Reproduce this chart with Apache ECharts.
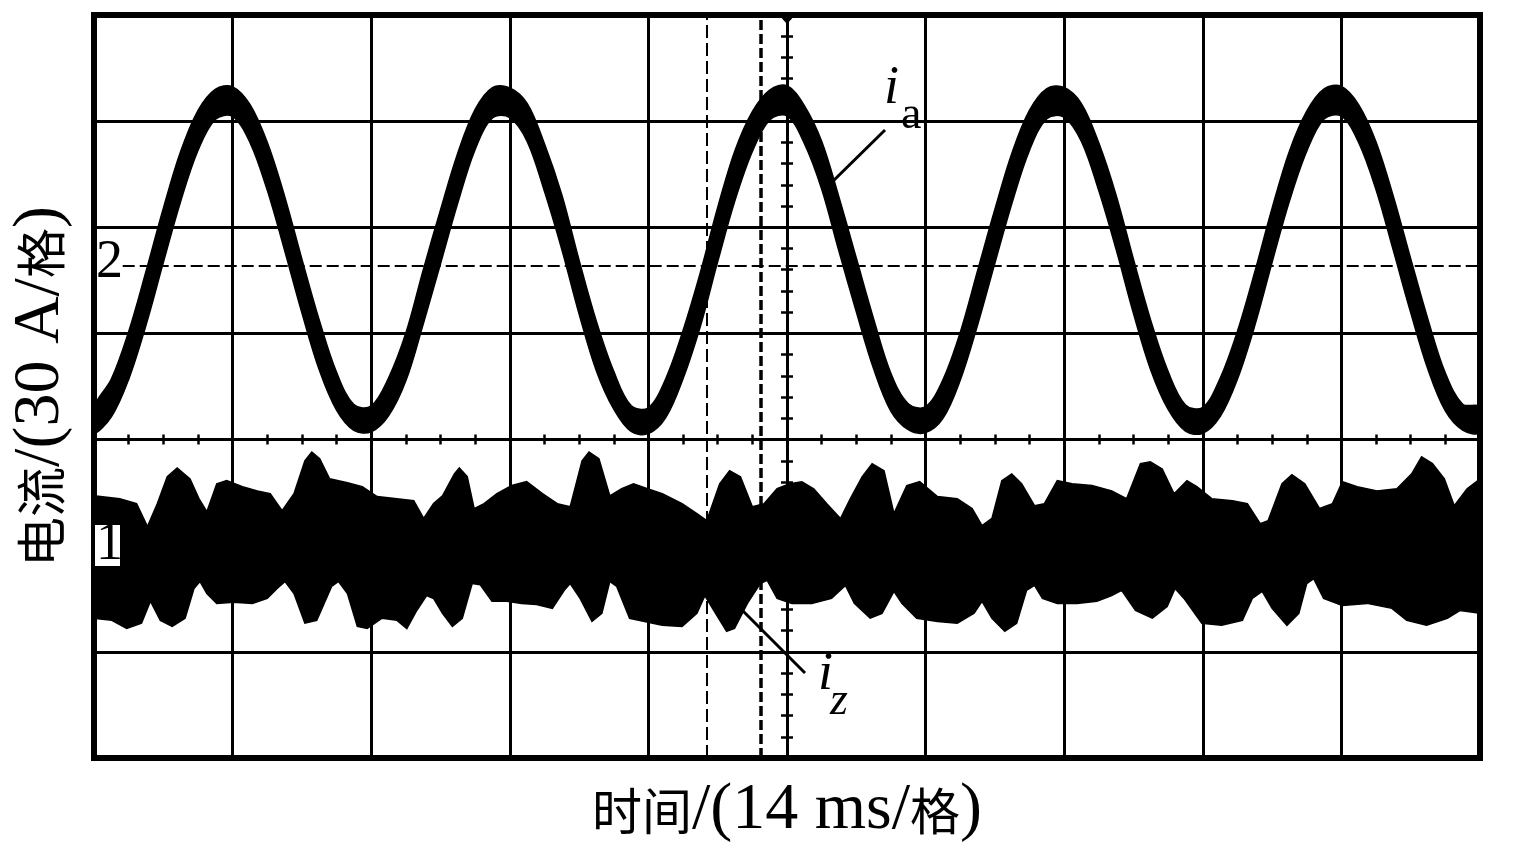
<!DOCTYPE html>
<html>
<head>
<meta charset="utf-8">
<script src="https://cdn.jsdelivr.net/npm/echarts@6/dist/echarts.min.js"></script>
<style>html,body{margin:0;padding:0;background:#fff;}#c{width:1516px;height:849px;}</style>
</head>
<body>
<div id="c"></div>
<script>
// time axis: 14 ms per division, 10 divisions; current axis: 30 A per division, 7 divisions
const xTicks = [0, 14, 28, 42, 56, 70, 84, 98, 112, 126, 140];
const yTicks = [0, 30, 60, 90, 120, 150, 180, 210];

// i_a : sample times (ms) and upper / lower edges of the noisy trace (A, scope scale)
const iaTime = [0,1.75,3.5,5.25,7,8.75,10.5,12.25,14,15.75,17.5,19.25,21,22.75,24.5,26.25,
  28,29.75,31.5,33.25,35,36.75,38.5,40.25,42,43.75,45.5,47.25,49,50.75,52.5,54.25,
  56,57.75,59.5,61.25,63,64.75,66.5,68.25,70,71.75,73.5,75.25,77,78.75,80.5,82.25,
  84,85.75,87.5,89.25,91,92.75,94.5,96.25,98,99.75,101.5,103.25,105,106.75,108.5,110.25,
  112,113.75,115.5,117.25,119,120.75,122.5,124.25,126,127.75,129.5,131.25,133,134.75,136.5,138.25,140];
const iaUpper = [99.2,107.1,120.5,137.5,155.3,171.4,183.0,189.0,189.7,184.7,174.0,158.8,141.0,123.8,109.0,99.9,
  99.5,107.4,120.1,137.9,154.9,171.0,183.3,189.5,189.4,185.0,173.6,159.2,140.7,123.4,109.3,99.6,
  99.0,107.2,120.8,137.2,155.6,171.7,182.7,188.8,190.0,184.4,174.3,158.5,141.3,124.1,108.7,100.1,
  99.3,106.9,120.3,137.7,155.1,171.2,183.1,189.2,189.5,184.9,173.8,159.0,140.9,123.6,109.2,99.8,
  99.1,107.3,120.6,137.4,155.4,171.5,182.8,189.1,189.8,184.6,174.1,158.7,141.1,123.9,108.8,100.0,
  99.3];
const iaLower = [91.9,96.4,107.0,122.3,140.0,157.3,171.7,180.5,181.3,174.0,160.5,143.5,125.8,109.7,98.3,92.6,
  92.2,96.7,106.6,122.6,139.7,156.9,172.0,180.9,181.0,174.3,160.2,143.8,125.5,109.4,98.6,92.3,
  91.7,96.2,107.2,122.0,140.3,157.6,171.4,180.3,181.5,173.7,160.8,143.2,126.1,110.0,98.0,92.8,
  92.0,96.0,106.8,122.4,139.9,157.1,171.8,180.7,181.1,174.2,160.3,143.7,125.6,109.6,98.5,92.4,
  91.8,96.5,107.1,122.2,140.1,157.4,171.5,180.6,181.4,173.9,160.6,143.4,125.9,109.8,98.1,92.7,
  92.0];

// i_z : upper and lower envelope of the noise band, [time ms, A]
const izUpper = [[0,74.1],[2.6,73.3],[4.3,71.9],[5.4,65.4],[6.4,71.9],[7.4,79.5],[8.4,82.0],[9.7,78.9],[10.6,73.3],[11.4,69.6],
  [12.4,77.5],[13.4,78.4],[15.0,76.7],[16.5,75.5],[17.8,74.7],[19.0,69.9],[20.2,74.7],[21.3,84.0],[22.0,86.5],[22.8,84.6],
  [23.8,78.9],[25.6,77.8],[27.1,76.7],[28.6,73.9],[30.6,73.3],[32.3,72.7],[33.3,67.7],[34.3,71.9],[35.2,74.1],[36.4,80.3],
  [36.9,82.0],[37.7,79.5],[38.4,70.5],[39.4,71.9],[40.7,74.7],[42.2,77.0],[43.7,78.1],[45.3,74.7],[46.8,71.9],[48.1,71.0],
  [49.3,84.0],[50.0,86.5],[51.0,84.6],[52.1,74.1],[53.3,76.1],[54.5,77.5],[55.9,76.1],[57.4,74.7],[59.4,71.9],[60.9,69.1],
  [61.9,67.1],[63.2,77.5],[64.2,81.2],[65.3,79.5],[66.5,71.0],[67.7,71.9],[69.0,76.1],[70.3,77.5],[71.5,78.1],[72.7,76.1],
  [74.0,71.9],[75.4,67.7],[76.4,73.3],[77.6,79.5],[78.6,83.2],[79.8,81.2],[80.8,69.1],[82.1,77.0],[83.4,78.1],[85.2,73.9],
  [87.2,73.3],[88.7,70.5],[89.7,65.7],[90.7,67.7],[91.7,78.4],[92.7,80.3],[93.7,77.5],[95.0,71.3],[96.0,71.9],[97.3,78.4],
  [98.8,77.5],[100.8,77.0],[102.8,75.5],[104.3,73.3],[105.7,83.2],[106.7,83.7],[107.9,81.7],[109.1,74.7],[110.4,78.4],[111.4,76.7],
  [112.9,73.3],[115.0,72.7],[116.5,71.9],[117.8,66.2],[118.6,67.1],[120.0,77.5],[121.0,80.1],[122.3,77.5],[123.8,70.5],[125.1,71.9],
  [126.1,78.1],[127.6,76.7],[129.6,75.5],[131.6,76.1],[133.1,80.3],[134.1,85.1],[135.2,83.2],[136.4,78.9],[137.4,71.3],[138.7,76.1],
  [140.0,78.9]];
const izLower = [[0,39.5],[1.8,38.9],[3.3,36.6],[4.8,38.1],[5.7,44.3],[6.7,38.9],[7.9,37.2],[9.2,39.5],[10.1,47.9],[10.7,49.9],
  [11.4,46.5],[12.4,43.7],[14.1,44.0],[16.0,43.7],[17.5,45.1],[18.5,47.9],[19.3,49.9],[20.2,46.5],[21.3,38.1],[22.5,38.9],
  [24.0,48.5],[24.7,49.9],[25.6,46.5],[26.6,37.2],[27.6,36.6],[29.1,39.5],[30.6,38.9],[31.6,36.6],[32.6,41.7],[33.6,45.9],
  [34.3,45.1],[35.2,40.9],[36.2,37.2],[37.2,39.5],[38.2,49.3],[39.0,49.0],[40.2,44.3],[41.7,44.3],[43.2,43.7],[44.7,43.4],
  [46.3,42.3],[47.5,47.4],[48.1,49.3],[49.1,45.1],[50.3,38.6],[51.3,40.9],[52.1,49.9],[52.8,48.5],[54.1,39.5],[55.6,38.6],
  [57.4,37.5],[59.4,37.2],[60.9,40.9],[61.7,45.9],[62.6,41.7],[63.9,35.8],[64.7,36.6],[66.0,43.7],[67.3,49.3],[68.0,50.2],
  [69.0,45.1],[70.5,43.7],[72.5,43.7],[74.5,45.1],[75.9,48.8],[76.8,43.7],[78.4,39.5],[79.6,40.9],[80.8,47.1],[81.6,43.7],
  [83.1,39.5],[85.2,38.6],[87.2,38.1],[88.9,40.9],[89.7,44.3],[90.7,39.5],[92.0,35.8],[93.2,38.1],[94.2,47.4],[95.0,48.8],
  [95.8,45.1],[97.3,43.7],[99.3,43.7],[101.3,44.3],[102.8,45.9],[103.8,47.4],[105.2,41.7],[106.9,39.5],[108.4,42.8],[109.2,47.9],
  [110.1,45.1],[111.9,38.1],[113.9,37.5],[116.0,38.9],[117.0,45.1],[118.0,47.1],[119.0,42.3],[120.5,37.5],[121.7,40.9],[122.5,49.3],
  [123.2,50.7],[124.2,45.1],[126.1,43.1],[128.6,43.7],[131.1,42.3],[132.6,38.9],[134.6,37.5],[136.7,39.5],[138.0,41.7],[140.0,40.9]];

// reference / cursor markers
const ch2Level = 139.2;          // channel-2 reference level (dashed line)
const cursorThin = 61.9;         // ms
const cursorThick = 67.3;        // ms
const trigTime = 70;             // trigger marker (ms)

const iaUpperPts = iaTime.map((t, i) => [t, iaUpper[i]]);
const iaLowerPts = iaTime.map((t, i) => [t, iaLower[i]]);

function band(upper, lower, smooth) {
  return {
    type: 'custom',
    coordinateSystem: 'cartesian2d',
    xAxisIndex: 0, yAxisIndex: 0,
    data: [upper[0]],
    encode: {x: 0, y: 1},
    clip: true,
    silent: true,
    z: 3,
    renderItem: function (params, api) {
      const pts = upper.map(p => api.coord(p)).concat(lower.slice().reverse().map(p => api.coord(p)));
      return {type: 'polygon', shape: {points: pts, smooth: smooth}, style: {fill: '#000', stroke: '#000', lineWidth: 1.5}};
    }
  };
}

const chart = echarts.init(document.getElementById('c'), null, {renderer: 'canvas'});
const serif = 'Liberation Serif, Times New Roman, serif';
const cjk = 'Noto Sans CJK SC';
const tickAxisCommon = {
  type: 'value', axisLabel: {show: false}, splitLine: {show: false}
};
chart.setOption({
  animation: false,
  backgroundColor: '#fff',
  grid: {left: 92, right: 36, top: 15, bottom: 89, show: true, borderColor: '#000', borderWidth: 6, backgroundColor: 'transparent'},
  xAxis: [
    {type: 'value', min: xTicks[0], max: xTicks[xTicks.length - 1], interval: xTicks[1] - xTicks[0],
     axisLine: {show: false, onZero: false}, axisTick: {show: false}, axisLabel: {show: false},
     splitLine: {show: true, lineStyle: {color: '#000', width: 3}},
     name: '{c|时间}{l|/(14 ms/}{c|格}{l|)}', nameLocation: 'middle', nameGap: 20,
     nameTextStyle: {rich: {
       c: {fontFamily: cjk, fontSize: 50, color: '#000'},
       l: {fontFamily: serif, fontSize: 66, color: '#000'}}}},
    Object.assign({}, tickAxisCommon, {min: 0, max: 140, interval: 3.5, position: 'bottom',
     axisLine: {show: false, onZero: true, onZeroAxisIndex: 1},
     axisTick: {show: true, length: 5, lineStyle: {color: '#000', width: 2.5}}}),
    Object.assign({}, tickAxisCommon, {min: 0, max: 140, interval: 3.5, position: 'top',
     axisLine: {show: false, onZero: true, onZeroAxisIndex: 1},
     axisTick: {show: true, length: 5, lineStyle: {color: '#000', width: 2.5}}}),
    {type: 'value', min: -70, max: 70, show: false, axisLine: {onZero: false}}
  ],
  yAxis: [
    {type: 'value', min: yTicks[0], max: yTicks[yTicks.length - 1], interval: yTicks[1] - yTicks[0],
     axisLine: {show: false, onZero: false}, axisTick: {show: false}, axisLabel: {show: false},
     splitLine: {show: true, lineStyle: {color: '#000', width: 3}},
     name: '{c|电流}{l|/(30 A/}{c|格}{l|)}', nameLocation: 'middle', nameGap: 20,
     nameTextStyle: {rich: {
       c: {fontFamily: cjk, fontSize: 50, color: '#000'},
       l: {fontFamily: serif, fontSize: 66, color: '#000'}}}},
    {type: 'value', min: -90, max: 120, show: false, axisLine: {onZero: false}},
    Object.assign({}, tickAxisCommon, {min: 0, max: 210, interval: 6, position: 'left',
     axisLine: {show: false, onZero: true, onZeroAxisIndex: 3},
     axisTick: {show: true, length: 6, lineStyle: {color: '#000', width: 2.5}}}),
    Object.assign({}, tickAxisCommon, {min: 0, max: 210, interval: 6, position: 'right',
     axisLine: {show: false, onZero: true, onZeroAxisIndex: 3},
     axisTick: {show: true, length: 6, lineStyle: {color: '#000', width: 2.5}}})
  ],
  series: [
    {type: 'line', data: [], xAxisIndex: 0, yAxisIndex: 0, z: 1, silent: true,
     markLine: {silent: true, symbol: 'none', label: {show: false}, animation: false,
       data: [
         [{coord: [2.9, ch2Level]}, {coord: [140, ch2Level]}],
         {xAxis: cursorThin, lineStyle: {type: [13, 5], width: 2, color: '#000'}},
         {xAxis: cursorThick, lineStyle: {type: [10, 4], width: 3.5, color: '#000'}}
       ],
       lineStyle: {type: [12, 5], width: 2, color: '#000'}},
     markPoint: {silent: true, animation: false, symbol: 'triangle', symbolRotate: 180, symbolSize: [18, 10], symbolOffset: [0, 4],
       itemStyle: {color: '#000'}, label: {show: false},
       data: [{coord: [trigTime, 210]}]}},
    band(izUpper, izLower, 0),
    band(iaUpperPts, iaLowerPts, 0.35)
  ],
  graphic: [
    {type: 'text', left: 96, top: 236, z: 10, style: {text: '2', font: '54px ' + serif, fill: '#000'}},
    {type: 'rect', shape: {x: 95, y: 525, width: 25, height: 41}, style: {fill: '#fff'}, z: 10},
    {type: 'text', left: 96, top: 518, z: 11, style: {text: '1', font: '54px ' + serif, fill: '#000'}},
    {type: 'line', shape: {x1: 827, y1: 187, x2: 885, y2: 130}, style: {stroke: '#000', lineWidth: 3}, z: 10},
    {type: 'text', left: 884, top: 62, z: 10, style: {text: 'i', font: 'italic 54px ' + serif, fill: '#000'}},
    {type: 'text', left: 901, top: 93, z: 10, style: {text: 'a', font: '46px ' + serif, fill: '#000'}},
    {type: 'line', shape: {x1: 742, y1: 610, x2: 805, y2: 673}, style: {stroke: '#000', lineWidth: 3}, z: 10},
    {type: 'text', left: 818, top: 648, z: 10, style: {text: 'i', font: 'italic 54px ' + serif, fill: '#000'}},
    {type: 'text', left: 830, top: 679, z: 10, style: {text: 'z', font: 'italic 46px ' + serif, fill: '#000'}}
  ]
});
</script>
</body>
</html>
